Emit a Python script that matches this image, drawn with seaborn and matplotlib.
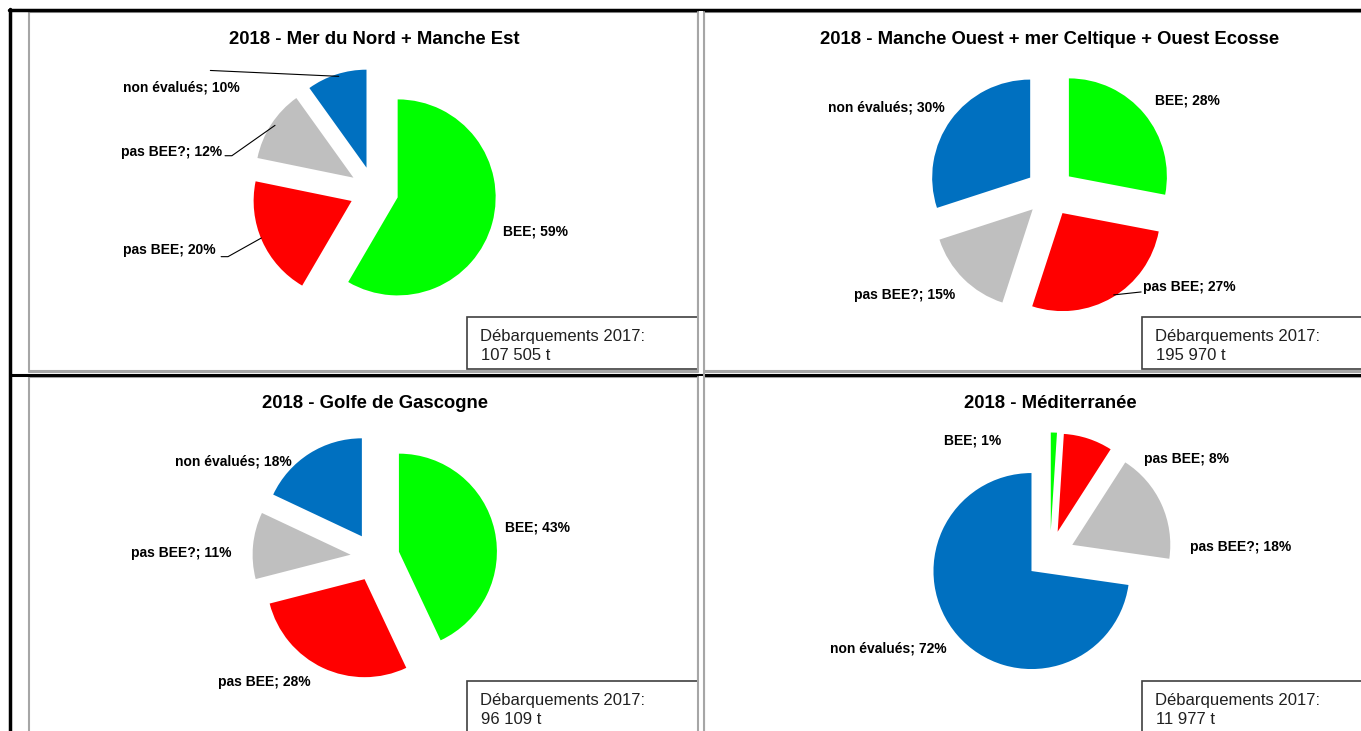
import numpy as np
import seaborn as sns
import matplotlib.pyplot as plt
from matplotlib.patches import Rectangle

sns.set_theme(style="white")
plt.rcParams['font.family'] = ['Liberation Sans Narrow', 'Liberation Sans', 'DejaVu Sans']

# données
categories = ["BEE", "pas BEE", "pas BEE?", "non évalués"]
couleurs = ["#00FF00", "#FF0000", "#BFBFBF", "#0070C0"]
titres = ["2018 - Mer du Nord + Manche Est",
          "2018 - Manche Ouest + mer Celtique + Ouest Ecosse",
          "2018 - Golfe de Gascogne",
          "2018 - Méditerranée"]
nord_manche_est = [59, 20, 12, 10]
manche_ouest = [28, 27, 15, 30]
gascogne = [43, 28, 11, 18]
mediterranee = [1, 8, 18, 72]
debarquements = ["107 505", "195 970", "96 109", "11 977"]

series = [nord_manche_est, manche_ouest, gascogne, mediterranee]

W, H = 1361, 731
R = 98  # rayon en px
L = 1.5
centres = [(374, 191), (1050, 192), (375, 557), (1050, 555)]

# position des étiquettes (en rayons, autour du centre)
pos_etiq = [
    [(1.32, -0.41, 'left'), (-1.62, -0.60, 'right'), (-1.55, 0.40, 'right'), (-1.37, 1.06, 'right')],
    [(1.07, 0.93, 'left'), (0.95, -0.97, 'left'), (-0.97, -1.05, 'right'), (-1.07, 0.86, 'right')],
    [(1.33, 0.30, 'left'), (-0.66, -1.28, 'right'), (-1.46, 0.04, 'right'), (-0.85, 0.97, 'right')],
    [(-0.50, 1.17, 'right'), (0.96, 0.98, 'left'), (1.43, 0.08, 'left'), (-1.05, -0.95, 'right')],
]
traits = [
    [[(-1.67, 1.23), (-0.36, 1.17)],
     [(-1.52, 0.36), (-1.45, 0.36), (-1.01, 0.67)],
     [(-1.56, -0.67), (-1.49, -0.67), (-1.15, -0.48)]],
    [[(0.65, -1.05), (0.93, -1.02)]],
    [],
    [],
]

fig = plt.figure(figsize=(W / 100, H / 100), dpi=100)
fond = fig.add_axes([0, 0, 1, 1])
fond.set_xlim(0, W)
fond.set_ylim(H, 0)
fond.axis('off')

# cadres des graphiques
for (x0, y0, x1, y1) in [(29, 12, 698, 371), (704, 12, 1380, 371), (29, 377, 698, 760), (704, 377, 1380, 760)]:
    fond.add_patch(Rectangle((x0, y0), x1 - x0, y1 - y0, fill=False, ec="#A6A6A6", lw=1.5))
fond.plot([9, W], [10, 10], color="black", lw=2.5)
fond.plot([10, 10], [9, H], color="black", lw=2.5)
fond.plot([10, W], [374.5, 374.5], color="black", lw=2.2)
fond.plot([29, 698], [371.5, 371.5], color="#A6A6A6", lw=1.5)
fond.plot([704, W], [371.5, 371.5], color="#A6A6A6", lw=1.5)

for i, vals in enumerate(series):
    cx, cy = centres[i]
    S = 2 * L * R
    ax = fig.add_axes([(cx - S / 2) / W, (H - cy - S / 2) / H, S / W, S / H])
    ax.pie(vals, colors=couleurs, startangle=90, counterclock=False,
           explode=[0.25] * 4, radius=1, wedgeprops=dict(linewidth=0))
    ax.set_xlim(-L, L)
    ax.set_ylim(-L, L)
    ax.set_aspect('auto')
    ax.axis('off')

    for cat, v, (dx, dy, ha) in zip(categories, vals, pos_etiq[i]):
        ax.text(dx, dy, f"{cat}; {v}%", ha=ha, va='center', fontsize=10,
                fontweight='bold', color='black', clip_on=False)
    for t in traits[i]:
        xs, ys = zip(*t)
        ax.plot(xs, ys, color='black', lw=0.8, clip_on=False)

    # titre
    fond.text(cx, 40 if i < 2 else 404, titres[i], ha='center', va='center',
              fontsize=13.3, fontweight='bold', color='black')

    # encadré débarquements (coupé par le bord du cadre)
    bx = 467 if cx < 700 else 1142
    bx1 = 698 if cx < 700 else W + 5
    by = 317 if i < 2 else 681
    fond.add_patch(Rectangle((bx, by), bx1 - bx, 52, fill=True, fc='white',
                             ec='#404040', lw=1.2, zorder=3))
    fond.text(bx + 13, by + 19, "Débarquements 2017:", ha='left', va='center',
              fontsize=12, color='#202020', zorder=4)
    fond.text(bx + 14, by + 38, f"{debarquements[i]} t", ha='left', va='center',
              fontsize=12, color='#202020', zorder=4)

# séparation entre les cadres
fond.add_patch(Rectangle((699, 11), 4.5, 362, fc='white', ec='none', zorder=5))
fond.add_patch(Rectangle((699, 376), 4.5, 360, fc='white', ec='none', zorder=5))
fond.plot([698, 698], [12, 371], color="#A6A6A6", lw=1.5, zorder=6)
fond.plot([704, 704], [12, H], color="#A6A6A6", lw=1.5, zorder=6)
fond.plot([698, 698], [377, H], color="#A6A6A6", lw=1.5, zorder=6)

fig.savefig("out.png", dpi=100)
